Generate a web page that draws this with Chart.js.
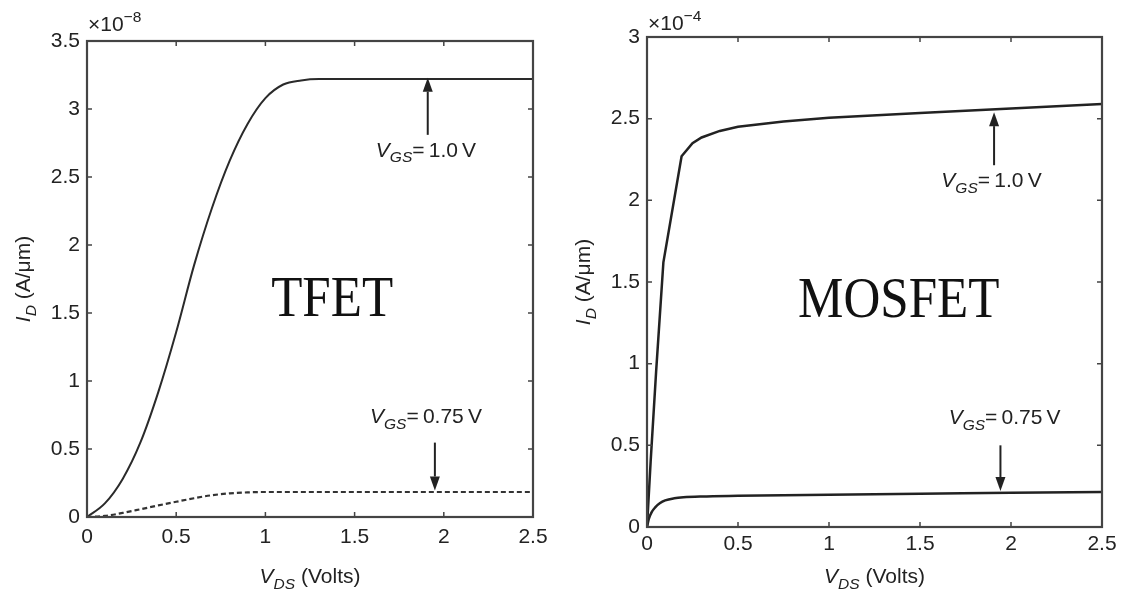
<!DOCTYPE html>
<html>
<head>
<meta charset="utf-8">
<script src="https://cdn.jsdelivr.net/npm/chart.js@4.4.1/dist/chart.umd.min.js"></script>
<style>
  html, body { margin: 0; padding: 0; background: #fff; }
  #wrap { position: relative; width: 1121px; height: 592px; overflow: hidden; }
  .panel { position: absolute; top: 0; }
</style>
</head>
<body>
<div id="wrap">
  <canvas id="tfet" class="panel" width="560" height="592" style="left:0"></canvas>
  <canvas id="mosfet" class="panel" width="561" height="592" style="left:560px"></canvas>
</div>
<script>
// ─── Data ────────────────────────────────────────────────────────────────────

const VDS_TICKS = [0, 0.5, 1, 1.5, 2, 2.5];
const TFET_ID_TICKS = [0, 0.5, 1, 1.5, 2, 2.5, 3, 3.5];   // x 1e-8 A/um
const MOS_ID_TICKS = [0, 0.5, 1, 1.5, 2, 2.5, 3];         // x 1e-4 A/um

// TFET, VGS = 1.0 V
const tfetVds10 = [0, 0.1, 0.2, 0.3, 0.4, 0.5, 0.6, 0.7, 0.8, 0.9, 1.0, 1.1, 1.2, 1.3, 1.5, 2.0, 2.5];
const tfetId10  = [0, 0.1, 0.28, 0.55, 0.92, 1.36, 1.85, 2.27, 2.62, 2.89, 3.08, 3.18, 3.21, 3.22, 3.22, 3.22, 3.22];

// TFET, VGS = 0.75 V
const tfetVds075 = [0, 0.1, 0.2, 0.3, 0.4, 0.5, 0.6, 0.7, 0.8, 0.9, 1.0, 1.5, 2.0, 2.5];
const tfetId075  = [0, 0.008, 0.03, 0.057, 0.085, 0.112, 0.138, 0.16, 0.174, 0.181, 0.184, 0.184, 0.184, 0.184];

// MOSFET, VGS = 1.0 V
const mosVds10 = [0, 0.02, 0.05, 0.09, 0.19, 0.25, 0.3, 0.4, 0.5, 0.75, 1.0, 1.5, 2.0, 2.5];
const mosId10  = [0, 0.4, 0.95, 1.62, 2.27, 2.35, 2.385, 2.425, 2.45, 2.482, 2.505, 2.535, 2.563, 2.59];

// MOSFET, VGS = 0.75 V
const mosVds075 = [0, 0.01, 0.025, 0.045, 0.07, 0.1, 0.15, 0.2, 0.3, 0.5, 1.0, 1.5, 2.0, 2.5];
const mosId075  = [0, 0.05, 0.09, 0.12, 0.145, 0.163, 0.176, 0.182, 0.187, 0.191, 0.198, 0.203, 0.21, 0.214];

// ─── Helpers ─────────────────────────────────────────────────────────────────

const INK = '#222';
const SANS = '"Liberation Sans", Arial, sans-serif';
const SERIF = '"Liberation Serif", "Times New Roman", serif';

function points(xs, ys) {
  return xs.map((x, i) => ({ x, y: ys[i] }));
}

// parts: [{t, italic, sub, sup}]
function richWidth(ctx, parts, size) {
  let w = 0;
  parts.forEach(p => {
    const s = (p.sub || p.sup) ? size * 0.74 : size;
    ctx.font = (p.italic ? 'italic ' : '') + s + 'px ' + SANS;
    w += ctx.measureText(p.t).width;
  });
  return w;
}

function drawRich(ctx, parts, x, y, size, align) {
  const w = richWidth(ctx, parts, size);
  let cx = align === 'center' ? x - w / 2 : x;
  ctx.textBaseline = 'alphabetic';
  ctx.textAlign = 'left';
  ctx.fillStyle = INK;
  parts.forEach(p => {
    const s = (p.sub || p.sup) ? size * 0.74 : size;
    ctx.font = (p.italic ? 'italic ' : '') + s + 'px ' + SANS;
    const dy = p.sub ? size * 0.28 : (p.sup ? -size * 0.45 : 0);
    ctx.fillText(p.t, cx, y + dy);
    cx += ctx.measureText(p.t).width;
  });
}

function vgsLabel(v) {
  return [{ t: 'V', italic: true }, { t: 'GS', italic: true, sub: true }, { t: '=\u2009' + v + '\u2009V' }];
}

function arrow(ctx, x, yTail, yTip) {
  const dir = yTip > yTail ? 1 : -1;
  const head = 14;
  ctx.strokeStyle = INK;
  ctx.fillStyle = INK;
  ctx.lineWidth = 2;
  ctx.beginPath();
  ctx.moveTo(x, yTail);
  ctx.lineTo(x, yTip - dir * head);
  ctx.stroke();
  ctx.beginPath();
  ctx.moveTo(x, yTip);
  ctx.lineTo(x - 5, yTip - dir * head);
  ctx.lineTo(x + 5, yTip - dir * head);
  ctx.closePath();
  ctx.fill();
}

// box, inward ticks, titles and annotations
const framePlugin = {
  id: 'frame',
  afterDraw(chart, args, opts) {
    const ctx = chart.ctx;
    const { left, right, top, bottom } = chart.chartArea;
    const xs = chart.scales.x, ys = chart.scales.y;
    ctx.save();

    // box
    ctx.strokeStyle = '#444';
    ctx.lineWidth = 2.2;
    ctx.strokeRect(left, top, right - left, bottom - top);

    // inward ticks on all four sides
    ctx.lineWidth = 1.5;
    ctx.beginPath();
    xs.ticks.forEach(t => {
      const px = xs.getPixelForValue(t.value);
      ctx.moveTo(px, bottom); ctx.lineTo(px, bottom - 5);
      ctx.moveTo(px, top); ctx.lineTo(px, top + 5);
    });
    ys.ticks.forEach(t => {
      const py = ys.getPixelForValue(t.value);
      ctx.moveTo(left, py); ctx.lineTo(left + 5, py);
      ctx.moveTo(right, py); ctx.lineTo(right - 5, py);
    });
    ctx.stroke();

    // exponent
    drawRich(ctx, [{ t: '\u00d710' }, { t: opts.exponent, sup: true }], left + 1, top - opts.expGap, 21, 'left');

    // axis titles
    drawRich(ctx, [{ t: 'V', italic: true }, { t: 'DS', italic: true, sub: true }, { t: ' (Volts)' }],
      (left + right) / 2, chart.height - 9, 21, 'center');
    ctx.save();
    ctx.translate(left - 57, (top + bottom) / 2);
    ctx.rotate(-Math.PI / 2);
    drawRich(ctx, [{ t: 'I', italic: true }, { t: 'D', italic: true, sub: true }, { t: ' (A/\u03bcm)' }], 0, 0, 21, 'center');
    ctx.restore();

    // device name
    ctx.save();
    ctx.translate(xs.getPixelForValue(opts.name.x), ys.getPixelForValue(opts.name.y));
    ctx.scale(0.88, 1);
    ctx.font = '58px ' + SERIF;
    ctx.fillStyle = '#111';
    ctx.textAlign = 'center';
    ctx.textBaseline = 'alphabetic';
    ctx.fillText(opts.name.text, 0, 0);
    ctx.restore();

    // VGS callouts
    opts.notes.forEach(n => {
      const ax = xs.getPixelForValue(n.arrowX);
      arrow(ctx, ax, ys.getPixelForValue(n.tail), ys.getPixelForValue(n.tip));
      drawRich(ctx, vgsLabel(n.vgs), xs.getPixelForValue(n.labelX), ys.getPixelForValue(n.labelY), 21, 'center');
    });

    ctx.restore();
  },
};

function panelOptions(p) {
  return {
    responsive: false,
    animation: false,
    events: [],
    layout: { padding: { top: p.padTop, right: p.padRight, left: 0, bottom: 0 } },
    plugins: {
      legend: { display: false },
      tooltip: { enabled: false },
      frame: p.frame,
    },
    scales: {
      x: {
        type: 'linear',
        min: 0,
        max: 2.5,
        afterBuildTicks: s => { s.ticks = VDS_TICKS.map(v => ({ value: v })); },
        afterFit: s => { s.height = p.xHeight; s.paddingLeft = 0; s.paddingRight = 0; },
        grid: { display: false, drawTicks: false },
        border: { display: false },
        ticks: { color: INK, padding: p.xPad, autoSkip: false, maxRotation: 0,
                 font: { family: SANS, size: 21 }, callback: v => String(v) },
      },
      y: {
        type: 'linear',
        min: 0,
        max: p.yMax,
        afterBuildTicks: s => { s.ticks = p.yTicks.map(v => ({ value: v })); },
        afterFit: s => { s.width = 87; s.paddingTop = 0; s.paddingBottom = 0; },
        grid: { display: false, drawTicks: false },
        border: { display: false },
        ticks: { color: INK, padding: 7, autoSkip: false,
                 font: { family: SANS, size: 21 }, callback: v => String(v) },
      },
    },
  };
}

// ─── TFET panel ──────────────────────────────────────────────────────────────

new Chart(document.getElementById('tfet'), {
  type: 'line',
  data: {
    datasets: [
      {
        label: 'VGS = 1.0 V',
        data: points(tfetVds10, tfetId10),
        borderColor: '#2a2a2a', borderWidth: 2, pointRadius: 0,
        cubicInterpolationMode: 'monotone',
      },
      {
        label: 'VGS = 0.75 V',
        data: points(tfetVds075, tfetId075),
        borderColor: '#333', borderWidth: 2.2, pointRadius: 0, borderDash: [5, 3],
        cubicInterpolationMode: 'monotone',
      },
    ],
  },
  options: panelOptions({
    padTop: 41, padRight: 27, xHeight: 75, xPad: 8, yMax: 3.5, yTicks: TFET_ID_TICKS,
    frame: {
      exponent: '\u22128', expGap: 10,
      name: { text: 'TFET', x: 1.374, y: 1.475 },
      notes: [
        { vgs: '1.0', arrowX: 1.91, tail: 2.81, tip: 3.23, labelX: 1.90, labelY: 2.65 },
        { vgs: '0.75', arrowX: 1.95, tail: 0.547, tip: 0.195, labelX: 1.90, labelY: 0.69 },
      ],
    },
  }),
  plugins: [framePlugin],
});

// ─── MOSFET panel ────────────────────────────────────────────────────────────

new Chart(document.getElementById('mosfet'), {
  type: 'line',
  data: {
    datasets: [
      {
        label: 'VGS = 1.0 V',
        data: points(mosVds10, mosId10),
        borderColor: '#222', borderWidth: 2.5, pointRadius: 0, tension: 0,
      },
      {
        label: 'VGS = 0.75 V',
        data: points(mosVds075, mosId075),
        borderColor: '#222', borderWidth: 2.5, pointRadius: 0,
        cubicInterpolationMode: 'monotone',
      },
    ],
  },
  options: panelOptions({
    padTop: 37, padRight: 19, xHeight: 65, xPad: 5, yMax: 3, yTicks: MOS_ID_TICKS,
    frame: {
      exponent: '\u22124', expGap: 7,
      name: { text: 'MOSFET', x: 1.383, y: 1.286 },
      notes: [
        { vgs: '1.0', arrowX: 1.907, tail: 2.215, tip: 2.54, labelX: 1.893, labelY: 2.08 },
        { vgs: '0.75', arrowX: 1.942, tail: 0.50, tip: 0.22, labelX: 1.965, labelY: 0.63 },
      ],
    },
  }),
  plugins: [framePlugin],
});
</script>
</body>
</html>
